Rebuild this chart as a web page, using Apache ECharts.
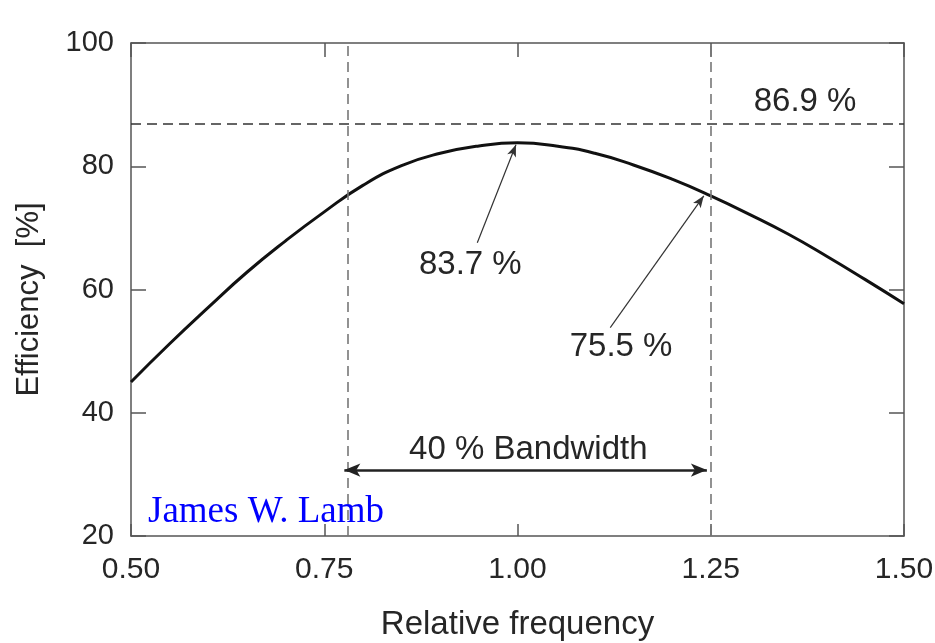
<!DOCTYPE html>
<html>
<head>
<meta charset="utf-8">
<script src="https://cdn.jsdelivr.net/npm/echarts@6/dist/echarts.min.js"></script>
<style>
  html, body { margin: 0; padding: 0; background: #fff; }
  #chart { width: 935px; height: 643px; }
</style>
</head>
<body>
<div id="chart"></div>
<script>
  // efficiency curve
  var freq = [0.50, 0.55, 0.60, 0.65, 0.70, 0.75, 0.80, 0.85, 0.90, 0.95, 1.00,
              1.05, 1.10, 1.15, 1.20, 1.25, 1.30, 1.35, 1.40, 1.45, 1.50];
  var eff = [45.0, 51.2, 57.1, 62.8, 67.9, 72.6, 76.9, 80.1, 82.1, 83.3, 83.8,
             83.3, 82.1, 80.2, 77.9, 75.2, 72.2, 69.0, 65.4, 61.6, 57.7];

  var xTicks = [0.50, 0.75, 1.00, 1.25, 1.50];
  var yTicks = [20, 40, 60, 80, 100];

  // reference lines
  var maxLevel = 86.9;
  var bandEdges = [0.776, 1.245];
  var bandArrowY = 30.7;

  // annotation arrows: [tailX, tailY, headX, headY]
  var peakArrow = [0.948, 67.6, 0.998, 83.5];
  var edgeArrow = [1.120, 53.8, 1.241, 75.2];

  // text labels: [x, y, text]
  var notes = [
    [1.372, 90.4, '86.9 %'],
    [0.939, 64.0, '83.7 %'],
    [1.134, 50.7, '75.5 %'],
    [1.014, 34.0, '40 % Bandwidth']
  ];
  var author = [0.522, 23.9, 'James W. Lamb'];

  var chart = echarts.init(document.getElementById('chart'));

  var lineData = [];
  for (var i = 0; i < freq.length; i++) {
    lineData.push([freq[i], eff[i]]);
  }

  var axisColor = '#555';
  var textColor = '#262626';
  var font = 'Liberation Sans';

  var notePoints = [];
  for (var j = 0; j < notes.length; j++) {
    notePoints.push({
      coord: [notes[j][0], notes[j][1]],
      label: { formatter: notes[j][2] }
    });
  }
  notePoints.push({
    coord: [author[0], author[1]],
    label: {
      formatter: author[2],
      color: '#0000ff',
      fontFamily: 'Liberation Serif',
      fontSize: 37,
      align: 'left'
    }
  });

  var option = {
    animation: false,
    backgroundColor: '#fff',
    grid: { left: 131, right: 31, top: 43, bottom: 107, outerBoundsMode: 'none', containLabel: false },
    xAxis: [{
      type: 'value',
      min: 0.5, max: 1.5, interval: 0.25,
      name: 'Relative frequency',
      nameLocation: 'middle',
      nameGap: 72,
      nameTextStyle: { fontSize: 33, color: textColor, fontFamily: font },
      axisLine: { lineStyle: { color: axisColor, width: 1.5 } },
      axisTick: { inside: true, length: 12, lineStyle: { color: axisColor, width: 1.5 } },
      axisLabel: {
        fontSize: 30, color: textColor, fontFamily: font, margin: 19,
        formatter: function (v) { return v.toFixed(2); }
      },
      splitLine: { show: false }
    }, {
      type: 'value', position: 'top',
      min: 0.5, max: 1.5, interval: 0.25,
      axisLine: { show: true, lineStyle: { color: axisColor, width: 1.5 } },
      axisTick: { inside: true, length: 14, lineStyle: { color: axisColor, width: 1.5 } },
      axisLabel: { show: false },
      splitLine: { show: false }
    }],
    yAxis: [{
      type: 'value',
      min: 20, max: 100, interval: 20,
      name: 'Efficiency  [%]',
      nameLocation: 'middle',
      nameGap: 86,
      nameTextStyle: { fontSize: 31, color: textColor, fontFamily: font, padding: [0, 0, 0, -20] },
      axisLine: { show: true, lineStyle: { color: axisColor, width: 1.5 } },
      axisTick: { show: true, inside: true, length: 15, lineStyle: { color: axisColor, width: 1.5 } },
      axisLabel: { fontSize: 29, color: textColor, fontFamily: font, margin: 17 },
      splitLine: { show: false }
    }, {
      type: 'value', position: 'right',
      min: 20, max: 100, interval: 20,
      axisLine: { show: true, lineStyle: { color: axisColor, width: 1.5 } },
      axisTick: { show: true, inside: true, length: 15, lineStyle: { color: axisColor, width: 1.5 } },
      axisLabel: { show: false },
      splitLine: { show: false }
    }],
    series: [{
      type: 'line',
      data: lineData,
      smooth: 0.5,
      symbol: 'none',
      lineStyle: { color: '#111', width: 3 },
      markLine: {
        silent: true,
        symbol: 'none',
        label: { show: false },
        data: [
          { yAxis: maxLevel, lineStyle: { color: '#333', width: 1.6, type: [10, 6] } },
          { xAxis: bandEdges[0], lineStyle: { color: '#777', width: 1.6, type: [10, 6] } },
          { xAxis: bandEdges[1], lineStyle: { color: '#777', width: 1.6, type: [10, 6] } },
          [
            { coord: [bandEdges[0], bandArrowY], symbol: 'arrow', symbolSize: [10, 16] },
            { coord: [bandEdges[1], bandArrowY], symbol: 'arrow', symbolSize: [10, 16],
              lineStyle: { color: '#222', width: 2.5, type: 'solid' } }
          ],
          [
            { coord: [peakArrow[0], peakArrow[1]], symbol: 'none' },
            { coord: [peakArrow[2], peakArrow[3]], symbol: 'arrow', symbolSize: [7, 12],
              lineStyle: { color: '#333', width: 1.2, type: 'solid' } }
          ],
          [
            { coord: [edgeArrow[0], edgeArrow[1]], symbol: 'none' },
            { coord: [edgeArrow[2], edgeArrow[3]], symbol: 'arrow', symbolSize: [7, 12],
              lineStyle: { color: '#333', width: 1.2, type: 'solid' } }
          ]
        ]
      },
      markPoint: {
        silent: true,
        symbol: 'circle',
        symbolSize: 0,
        label: {
          show: true,
          position: 'inside',
          fontSize: 33,
          color: textColor,
          fontFamily: font
        },
        data: notePoints
      }
    }]
  };

  chart.setOption(option);
</script>
</body>
</html>
